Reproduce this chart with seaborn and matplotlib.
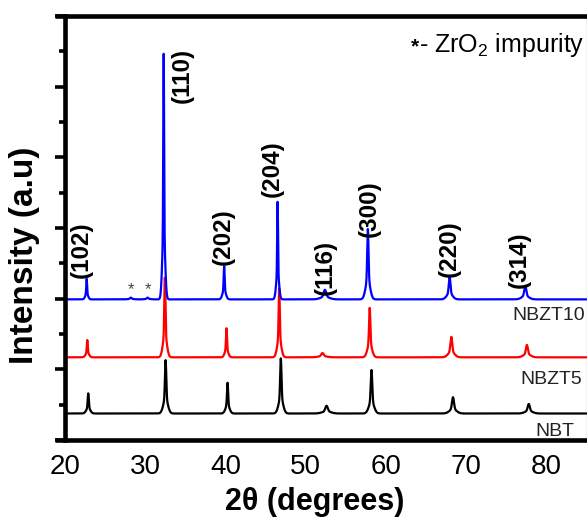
import matplotlib
matplotlib.use("Agg")
import numpy as np
import pandas as pd
import matplotlib.pyplot as plt
from matplotlib.ticker import MultipleLocator, NullFormatter
from matplotlib.lines import Line2D
import seaborn as sns

# ---- diffraction data (2theta in degrees, intensity in arbitrary units) ----
two_theta = np.arange(20.0, 85.0001, 0.02)

hkl = ["(102)", "(110)", "(202)", "(204)", "(116)", "(300)", "(220)", "(314)"]

# NBT
nbt_base = 0.75
nbt_pos = [22.9, 32.54, 40.26, 46.9, 52.6, 58.2, 68.36, 77.8]
nbt_height = [0.57, 1.51, 0.87, 1.56, 0.22, 1.23, 0.46, 0.27]
nbt_width = [0.07, 0.08, 0.07, 0.08, 0.15, 0.09, 0.12, 0.13]

# NBZT5
nbzt5_base = 2.34
nbzt5_pos = [22.78, 32.45, 40.13, 46.7, 52.1, 57.98, 68.15, 77.57]
nbzt5_height = [0.49, 2.27, 0.83, 1.96, 0.12, 1.40, 0.58, 0.35]
nbzt5_width = [0.06, 0.07, 0.06, 0.07, 0.15, 0.08, 0.11, 0.12]

# NBZT10
nbzt10_base = 3.98
nbzt10_pos = [22.7, 32.3, 39.84, 46.5, 52.4, 57.75, 67.94, 77.37]
nbzt10_height = [0.58, 6.95, 0.94, 2.76, 0.27, 2.00, 0.63, 0.38]
nbzt10_width = [0.05, 0.05, 0.06, 0.05, 0.15, 0.08, 0.10, 0.12]

# weak ZrO2 reflections in NBZT10
zro2_pos = [28.2, 30.3]
zro2_height = [0.05, 0.05]

sample_names = ["NBT", "NBZT5", "NBZT10"]
sample_colors = ["black", "red", "blue"]


def pattern(base, pos, height, width):
    y = np.full_like(two_theta, base)
    for p, h, w in zip(pos, height, width):
        d = two_theta - p
        y += h * (0.72 * np.exp(-0.5 * (d / w) ** 2)
                  + 0.28 * np.exp(-0.5 * (d / (3.5 * w)) ** 2))
    return y


curves = {
    "NBT": pattern(nbt_base, nbt_pos, nbt_height, nbt_width),
    "NBZT5": pattern(nbzt5_base, nbzt5_pos, nbzt5_height, nbzt5_width),
    "NBZT10": pattern(nbzt10_base, nbzt10_pos + zro2_pos,
                      nbzt10_height + zro2_height,
                      nbzt10_width + [0.1, 0.1]),
}

df = pd.concat(
    [pd.DataFrame({"2theta": two_theta, "I": curves[n], "sample": n}) for n in sample_names],
    ignore_index=True,
)

# ---- styling ----
sns.set_theme(style="white")
plt.rcParams["font.family"] = ["Liberation Sans", "DejaVu Sans"]
plt.rcParams["mathtext.fontset"] = "custom"
plt.rcParams["mathtext.rm"] = "Liberation Sans"
plt.rcParams["text.color"] = "black"
plt.rcParams["axes.labelcolor"] = "black"

fig = plt.figure(figsize=(5.87, 5.20), dpi=100)
W, H = 587.0, 520.0
ax_l, ax_r, ax_t, ax_b = 65.0, 586.5, 16.0, 440.0
ax = fig.add_axes([ax_l / W, 1 - ax_b / H, (ax_r - ax_l) / W, (ax_b - ax_t) / H])

sns.lineplot(data=df, x="2theta", y="I", hue="sample", hue_order=sample_names,
             palette=sample_colors, linewidth=1.6, legend=False, ax=ax,
             estimator=None, sort=False)

ax.set_xlim(20, 85)
ax.set_ylim(0, 12)

ax.xaxis.set_major_locator(MultipleLocator(10))
ax.xaxis.set_minor_locator(MultipleLocator(5))
ax.yaxis.set_major_locator(MultipleLocator(2))
ax.yaxis.set_minor_locator(MultipleLocator(1))
ax.yaxis.set_major_formatter(NullFormatter())
ax.set_xticks(np.arange(20, 81, 10))

for side in ("left", "bottom", "top"):
    ax.spines[side].set_linewidth(3.3)
    ax.spines[side].set_color("black")
ax.spines["right"].set_linewidth(0.8)
ax.spines["right"].set_color("#555555")

ax.tick_params(axis="x", which="major", direction="out", length=8.5, width=2.6,
               labelsize=20, pad=1.5, colors="black")
ax.tick_params(axis="x", which="minor", direction="out", length=5, width=2.6,
               colors="black")
ax.tick_params(axis="y", which="major", direction="out", length=7.5, width=2.6,
               left=True, colors="black")
ax.tick_params(axis="y", which="minor", direction="out", length=4.5, width=2.6,
               left=True, colors="black")

# spine overhang at the left corners
for yy in (0.0, 1.0):
    ax.add_line(Line2D([-10 / (ax_r - ax_l), 0], [yy, yy], transform=ax.transAxes,
                       color="black", linewidth=3.3, clip_on=False,
                       solid_capstyle="butt"))

ax.set_xlabel("2θ (degrees)", fontsize=22, fontweight="bold", color="black")
ax.xaxis.set_label_coords((315 - ax_l) / (ax_r - ax_l), -(502 - ax_b) / (ax_b - ax_t))
ax.xaxis.label.set_va("center")
ax.set_ylabel("Intensity (a.u)", fontsize=24, fontweight="bold", color="black")
ax.yaxis.set_label_coords(-(ax_l - 25) / (ax_r - ax_l), (ax_b - 255) / (ax_b - ax_t))
ax.yaxis.label.set_va("center")

# Miller indices above the NBZT10 reflections
label_x = [21.99, 34.57, 39.68, 45.78, 52.38, 57.98, 67.95, 76.66]
label_y = [4.59, 9.54, 4.95, 6.88, 4.10, 5.75, 4.61, 4.30]
for t, lx, ly in zip(hkl, label_x, label_y):
    ax.text(lx, ly, t, rotation=90, ha="center", va="bottom",
            fontsize=17.5, fontweight="bold", color="black")

# ZrO2 markers
for px in zro2_pos:
    ax.text(px, 4.25, "*", ha="center", va="center", fontsize=12, color="#444444")

# key for the asterisk
ax.text(63.6, 11.13, "*", ha="center", va="center", fontsize=15,
        fontweight="bold", color="black")
ax.text(64.15, 11.18, r"- ZrO$_2$ impurity", ha="left", va="center",
        fontsize=18, color="black", clip_on=False)

# sample names
ax.text(84.76, 3.51, "NBZT10", ha="right", va="center", fontsize=14, color="#222222")
ax.text(84.5, 1.70, "NBZT5", ha="right", va="center", fontsize=14, color="#222222")
ax.text(83.5, 0.25, "NBT", ha="right", va="center", fontsize=14, color="#222222")

fig.savefig("out.png", dpi=100)
